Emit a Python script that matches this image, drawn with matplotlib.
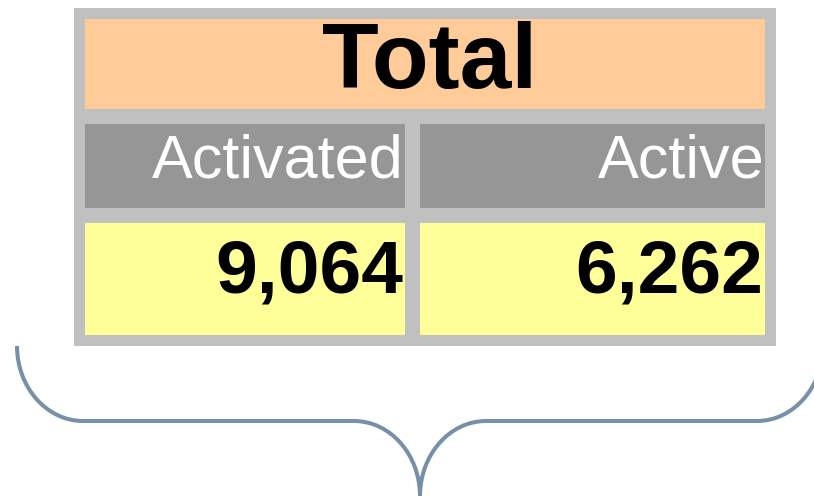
import matplotlib.pyplot as plt
from matplotlib.patches import Rectangle, PathPatch
from matplotlib.path import Path

plt.rcParams['font.family'] = ['Liberation Sans', 'DejaVu Sans']

# data
title = "Total"
categories = ["Activated", "Active"]
values = [9064, 6262]

W, H = 814, 496
fig = plt.figure(figsize=(W / 100, H / 100), dpi=100)
ax = fig.add_axes([0, 0, 1, 1])
ax.set_xlim(0, W)
ax.set_ylim(H, 0)
ax.axis('off')

# outer gray frame
ax.add_patch(Rectangle((74, 8), 702, 338, facecolor='#c0c0c0', edgecolor='none'))

# title row
ax.add_patch(Rectangle((85, 19), 680, 90, facecolor='#ffcc99', edgecolor='none'))
ax.text(430, 88, title, ha='center', va='baseline', fontsize=67,
        fontweight='bold', color='black')

# header + value cells
col_x = [(85, 405), (420, 765)]
for (x0, x1), cat, val in zip(col_x, categories, values):
    ax.add_patch(Rectangle((x0, 124), x1 - x0, 84, facecolor='#969696', edgecolor='none'))
    ax.text(x1 - 1, 177, cat, ha='right', va='baseline', fontsize=44, color='white')
    ax.add_patch(Rectangle((x0, 223), x1 - x0, 112, facecolor='#ffff99', edgecolor='none'))
    ax.text(x1 - 2, 292, f"{val:,}", ha='right', va='baseline', fontsize=54,
            fontweight='bold', color='black')

# curly brace below the table
cx, top, mid, bot = 420, 346, 421, 496
k = 0.55
left, right = 17, 2 * cx - 17
rx = 66
verts = [
    (left, top),
    (left, top + k * (mid - top)), (left + rx - k * rx, mid), (left + rx, mid),
    (cx - rx, mid),
    (cx - rx + k * rx, mid), (cx, bot - k * (bot - mid)), (cx, bot),
    (cx, bot - k * (bot - mid)), (cx + rx - k * rx, mid), (cx + rx, mid),
    (right - rx, mid),
    (right - rx + k * rx, mid), (right, top + k * (mid - top)), (right, top),
]
codes = [Path.MOVETO,
         Path.CURVE4, Path.CURVE4, Path.CURVE4,
         Path.LINETO,
         Path.CURVE4, Path.CURVE4, Path.CURVE4,
         Path.CURVE4, Path.CURVE4, Path.CURVE4,
         Path.LINETO,
         Path.CURVE4, Path.CURVE4, Path.CURVE4]
ax.add_patch(PathPatch(Path(verts, codes), facecolor='none', edgecolor='#7790a8',
                       lw=2.9, clip_on=True))

fig.savefig('out.png', dpi=100)
